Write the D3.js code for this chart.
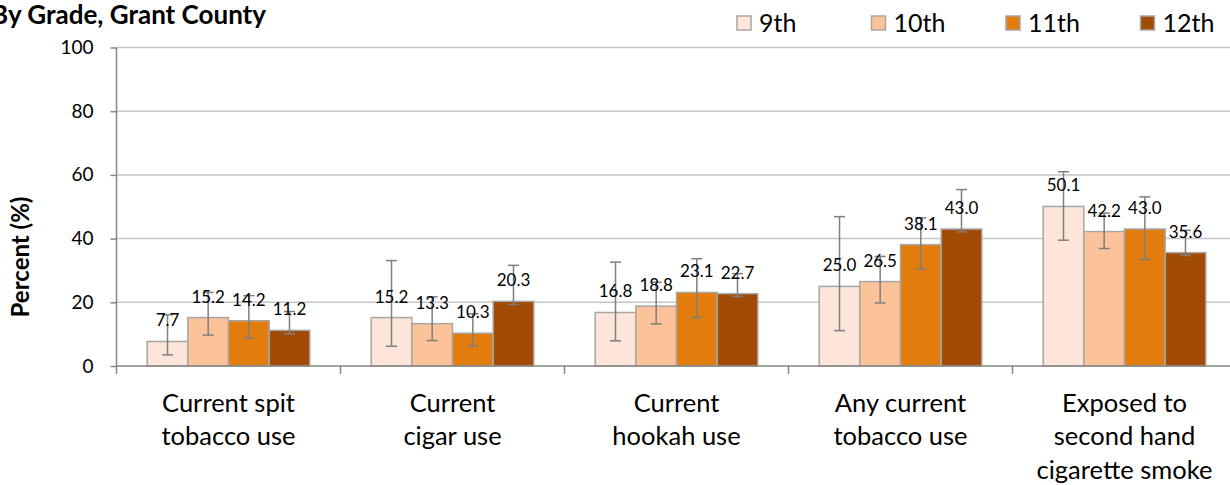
<!DOCTYPE html>
<html>
<head>
<meta charset="utf-8">
<script src="https://cdn.jsdelivr.net/npm/d3@7"></script>
<style>
  body { margin: 0; background: #fff; }
  svg { display: block; font-family: Lato, "Open Sans", sans-serif; }
</style>
</head>
<body>
<div id="chart"></div>
<script>
// dati
var categories = [
  ["Current spit", "tobacco use"],
  ["Current", "cigar use"],
  ["Current", "hookah use"],
  ["Any current", "tobacco use"],
  ["Exposed to", "second hand", "cigarette smoke"]
];
var grades = ["9th", "10th", "11th", "12th"];
var colors = ["#fde5d9", "#fcc299", "#e27c0c", "#a24b05"];

var val9  = [7.7, 15.2, 16.8, 25.0, 50.1];
var val10 = [15.2, 13.3, 18.8, 26.5, 42.2];
var val11 = [14.2, 10.3, 23.1, 38.1, 43.0];
var val12 = [11.2, 20.3, 22.7, 43.0, 35.6];

// intervalli di confidenza (basso / alto)
var lo9  = [3.5, 6.2, 7.9, 11.1, 39.5];
var hi9  = [16.1, 33.1, 32.6, 46.9, 61.0];
var lo10 = [9.7, 8.0, 13.2, 19.8, 36.9];
var hi10 = [23.1, 21.7, 26.3, 34.4, 48.0];
var lo11 = [8.8, 6.3, 15.2, 30.5, 33.5];
var hi11 = [22.1, 16.4, 33.7, 46.5, 53.1];
var lo12 = [10.1, 19.3, 21.8, 42.1, 34.7];
var hi12 = [17.1, 31.6, 29.0, 55.4, 42.6];

var yTicks = [0, 20, 40, 60, 80, 100];

var series = [
  { grade: grades[0], values: val9,  lo: lo9,  hi: hi9 },
  { grade: grades[1], values: val10, lo: lo10, hi: hi10 },
  { grade: grades[2], values: val11, lo: lo11, hi: hi11 },
  { grade: grades[3], values: val12, lo: lo12, hi: hi12 }
];

var width = 1230, height = 485;
var plotL = 116.5, plotR = 1236.5, plotT = 47.5, plotB = 366;

var svg = d3.select("#chart").append("svg")
  .attr("width", width)
  .attr("height", height);

var x0 = d3.scaleBand().domain(d3.range(categories.length)).range([plotL, plotR]).padding(0);
var x1 = d3.scaleBand().domain(grades).range([0, x0.bandwidth()]).paddingInner(0).paddingOuter(0.755);
var y = d3.scaleLinear().domain([0, 100]).range([plotB, plotT]);
var color = d3.scaleOrdinal().domain(grades).range(colors);

// griglia
svg.append("g").selectAll("line")
  .data(yTicks.filter(d => d > 0))
  .enter().append("line")
  .attr("x1", plotL).attr("x2", width)
  .attr("y1", d => y(d)).attr("y2", d => y(d))
  .attr("stroke", "#c6c6c6").attr("stroke-width", 1.5);

// barre
var groups = svg.append("g").selectAll("g")
  .data(series).enter().append("g");

groups.selectAll("rect")
  .data(s => s.values.map((v, i) => ({ grade: s.grade, i: i, v: v })))
  .enter().append("rect")
  .attr("x", d => x0(d.i) + x1(d.grade))
  .attr("y", d => y(d.v))
  .attr("width", x1.bandwidth())
  .attr("height", d => y(0) - y(d.v))
  .attr("fill", d => color(d.grade))
  .attr("stroke", "#a6a6a6").attr("stroke-width", 1.5);

// barre di errore
var capW = 11;
var err = svg.append("g").attr("stroke", "#7f7f7f").attr("stroke-width", 1.5);
series.forEach(s => {
  s.values.forEach((v, i) => {
    var cx = x0(i) + x1(s.grade) + x1.bandwidth() / 2;
    err.append("line").attr("x1", cx).attr("x2", cx).attr("y1", y(s.lo[i])).attr("y2", y(s.hi[i]));
    err.append("line").attr("x1", cx - capW / 2).attr("x2", cx + capW / 2).attr("y1", y(s.lo[i])).attr("y2", y(s.lo[i]));
    err.append("line").attr("x1", cx - capW / 2).attr("x2", cx + capW / 2).attr("y1", y(s.hi[i])).attr("y2", y(s.hi[i]));
  });
});

// etichette dei valori
var lab = svg.append("g").selectAll("g")
  .data(series).enter().append("g");
lab.selectAll("text")
  .data(s => s.values.map((v, i) => ({ grade: s.grade, i: i, v: v })))
  .enter().append("text")
  .attr("x", d => x0(d.i) + x1(d.grade) + x1.bandwidth() / 2)
  .attr("y", d => y(d.v) - 15)
  .attr("text-anchor", "middle")
  .attr("font-size", 17)
  .attr("fill", "#000")
  .text(d => d.v.toFixed(1));

// asse Y
var yAxis = svg.append("g")
  .attr("transform", `translate(${plotL},0)`)
  .call(d3.axisLeft(y).tickValues(yTicks).tickSize(6).tickPadding(17).tickFormat(d3.format("d")));
yAxis.select(".domain").attr("stroke", "#868686").attr("stroke-width", 1.5).attr("d", `M0,${plotT}V${plotB}`);
yAxis.selectAll(".tick line").attr("stroke", "#868686").attr("stroke-width", 1.5);
yAxis.selectAll(".tick text").attr("font-size", 19).attr("font-family", "Lato, sans-serif").attr("fill", "#000");

// asse X
var xAxis = svg.append("g").attr("stroke", "#868686").attr("stroke-width", 1.5);
xAxis.append("line").attr("x1", plotL).attr("x2", plotR).attr("y1", plotB).attr("y2", plotB);
xAxis.selectAll("line.tk")
  .data(d3.range(categories.length + 1))
  .enter().append("line").attr("class", "tk")
  .attr("x1", i => i < categories.length ? x0(i) : plotR)
  .attr("x2", i => i < categories.length ? x0(i) : plotR)
  .attr("y1", plotB).attr("y2", plotB + 8);

// etichette categorie
svg.append("g").selectAll("text")
  .data(categories).enter().append("text")
  .attr("text-anchor", "middle")
  .attr("font-size", 25.5)
  .attr("fill", "#000")
  .each(function (lines, i) {
    var t = d3.select(this);
    lines.forEach((l, k) => {
      t.append("tspan")
        .attr("x", x0(i) + x0.bandwidth() / 2)
        .attr("y", 412 + k * 33.3)
        .text(l);
    });
  });

// titolo asse Y
svg.append("text")
  .attr("transform", "translate(29,257) rotate(-90)")
  .attr("text-anchor", "middle")
  .attr("font-size", 24)
  .attr("font-weight", "bold")
  .text("Percent (%)");

// titolo (tagliato a sinistra)
svg.append("text")
  .attr("x", 266).attr("y", 24)
  .attr("text-anchor", "end")
  .attr("font-size", 26)
  .attr("font-weight", "bold")
  .text("By Grade, Grant County");

// legenda
var legend = svg.append("g").selectAll("g")
  .data(grades).enter().append("g")
  .attr("transform", (d, i) => `translate(${737 + i * 134.5},0)`);
legend.append("rect")
  .attr("x", 0).attr("y", 16).attr("width", 14).attr("height", 14)
  .attr("fill", d => color(d))
  .attr("stroke", "#a6a6a6").attr("stroke-width", 1.5);
legend.append("text")
  .attr("x", 22).attr("y", 32)
  .attr("font-size", 25)
  .text(d => d);
</script>
</body>
</html>
